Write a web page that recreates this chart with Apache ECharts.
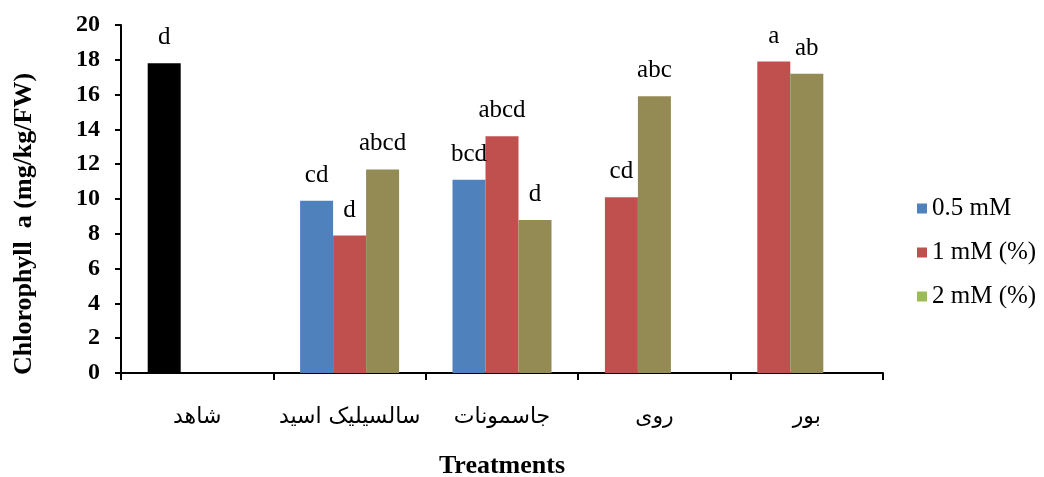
<!DOCTYPE html>
<html>
<head>
<meta charset="utf-8">
<script src="https://cdn.jsdelivr.net/npm/echarts@6/dist/echarts.min.js"></script>
<style>
  html, body { margin: 0; padding: 0; background: #fff; }
  #main { width: 1044px; height: 477px; }
</style>
</head>
<body>
<div id="main"></div>
<script>
// treatments on the x axis
var categories = ['شاهد', 'سالسیلیک اسید', 'جاسمونات', 'روی', 'بور'];

// chlorophyll a values, one per treatment (null = no bar)
var control = [17.8, null, null, null, null];
var mM05 = [null, 9.9, 11.1, null, null];
var mM1 = [null, 7.9, 13.6, 10.1, 17.9];
var mM2 = [null, 11.7, 8.8, 15.9, 17.2];

// letters of the mean comparison test
var controlLetters = ['d', '', '', '', ''];
var mM05Letters = ['', 'cd', 'bcd', '', ''];
var mM1Letters = ['', 'd', 'abcd', 'cd', 'a'];
var mM2Letters = ['', 'abcd', 'd', 'abc', 'ab'];

var seriesNames = ['0.5 mM', '1 mM (%)', '2 mM (%)'];
var legendColors = ['#4F81BD', '#C0504D', '#9BBB59'];

var groups = [
  { values: control, letters: controlLetters, color: '#000000' },
  { values: mM05, letters: mM05Letters, color: '#4F81BD' },
  { values: mM1, letters: mM1Letters, color: '#C0504D' },
  { values: mM2, letters: mM2Letters, color: '#948A54' }
];

// bars sit side by side from the left of each category, like in the excel chart
var slots = [[], [], []];
for (var i = 0; i < categories.length; i++) {
  var k = 0;
  groups.forEach(function (g) {
    if (g.values[i] != null) {
      slots[k][i] = { value: g.values[i], letter: g.letters[i], itemStyle: { color: g.color } };
      k++;
    }
  });
  for (; k < 3; k++) slots[k][i] = '-';
}

var serif = 'Liberation Serif';

var myChart = echarts.init(document.getElementById('main'));
var option = {
  animation: false,
  backgroundColor: '#fff',
  grid: { left: 121, right: 161, top: 25, bottom: 104, outerBoundsMode: 'none' },
  legend: {
    data: seriesNames,
    orient: 'vertical',
    left: 912,
    top: 191,
    icon: 'rect',
    itemWidth: 10,
    itemHeight: 10,
    itemGap: 19,
    textStyle: { fontFamily: serif, fontSize: 25, color: '#000' }
  },
  xAxis: {
    type: 'category',
    data: categories,
    name: 'Treatments',
    nameLocation: 'middle',
    nameGap: 80,
    nameTextStyle: { fontFamily: serif, fontWeight: 'bold', fontSize: 26, color: '#000' },
    axisLine: { lineStyle: { color: '#000', width: 2 } },
    axisTick: { show: true, length: 7, lineStyle: { color: '#000', width: 2 } },
    axisLabel: { interval: 0, margin: 33, fontFamily: 'DejaVu Sans', fontSize: 22, color: '#000' }
  },
  yAxis: {
    type: 'value',
    min: 0,
    max: 20,
    interval: 2,
    name: 'Chlorophyll  a (mg/kg/FW)',
    nameLocation: 'middle',
    nameGap: 84,
    nameTextStyle: { fontFamily: serif, fontWeight: 'bold', fontSize: 26, color: '#000', padding: [0, 50, 0, 0] },
    splitLine: { show: false },
    axisLine: { show: true, lineStyle: { color: '#000', width: 2 } },
    axisTick: { show: true, length: 6, lineStyle: { color: '#000', width: 2 } },
    axisLabel: { margin: 21, fontFamily: serif, fontWeight: 'bold', fontSize: 24, color: '#000' }
  },
  series: seriesNames.map(function (name, s) {
    return {
      name: name,
      type: 'bar',
      barWidth: 33,
      barGap: 0,
      itemStyle: { color: legendColors[s] },
      label: {
        show: true,
        position: 'top',
        distance: 13,
        fontFamily: serif,
        fontSize: 25,
        color: '#000',
        formatter: function (p) { return p.data.letter || ''; }
      },
      data: slots[s]
    };
  })
};

if (option && typeof option === 'object') {
  myChart.setOption(option);
}
</script>
</body>
</html>
